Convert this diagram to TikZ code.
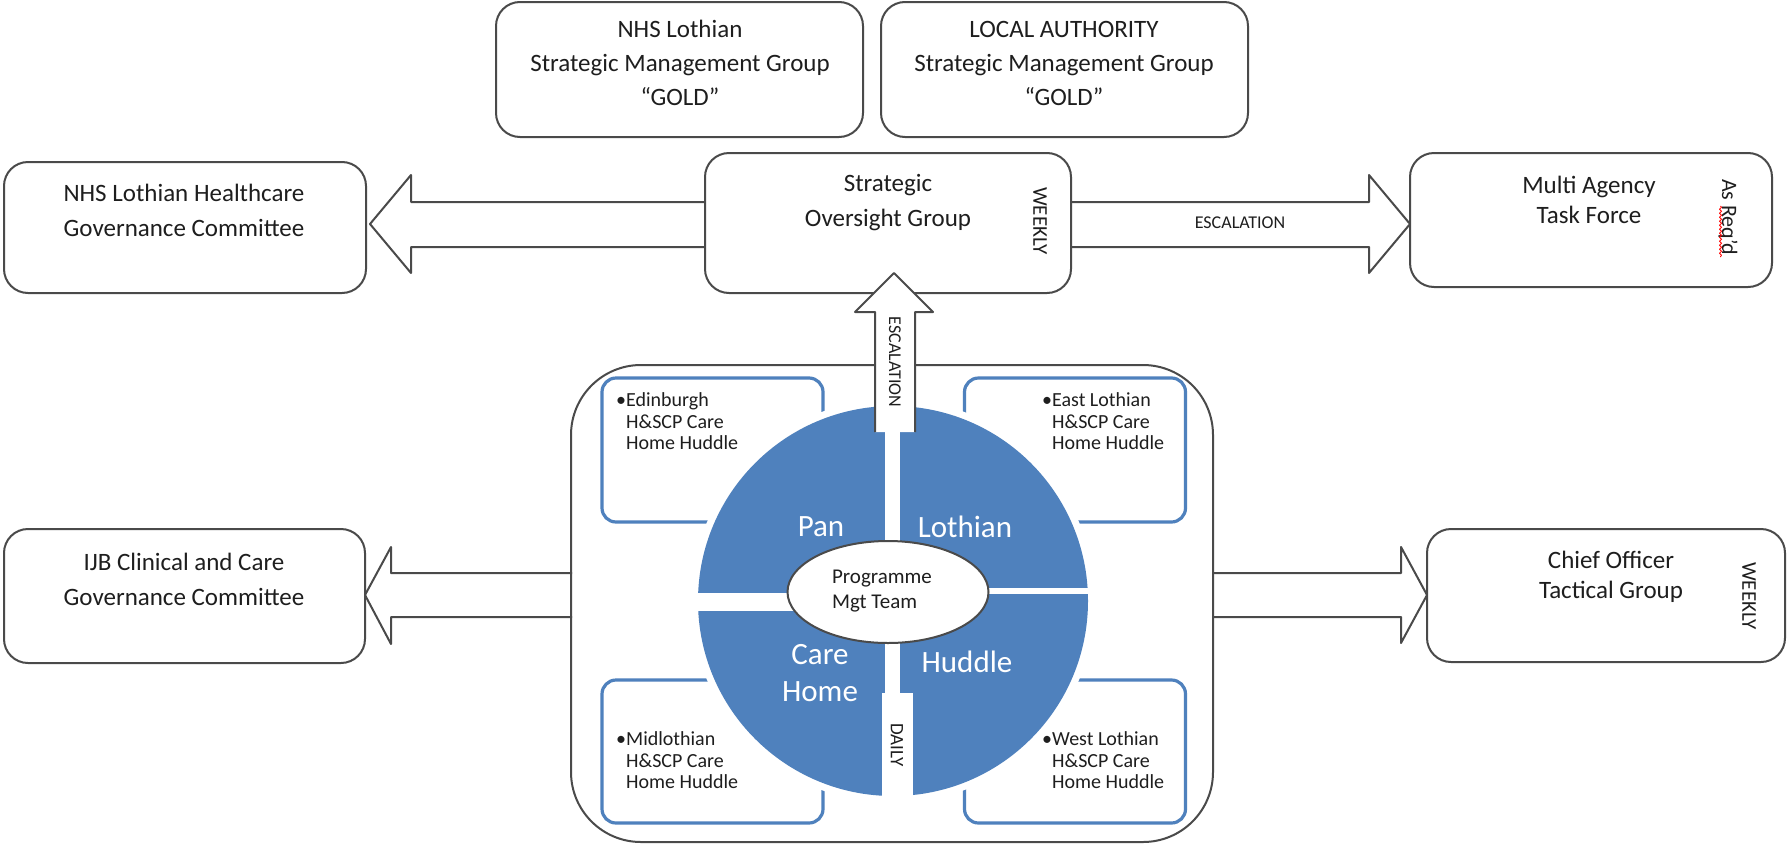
\documentclass[tikz,border=0pt]{standalone}
\usepackage{fontspec}
\setmainfont{Carlito}
\usetikzlibrary{shapes.geometric,decorations.pathmorphing}
\definecolor{ln}{HTML}{4A4A4A}
\definecolor{acc}{HTML}{4F81BD}
\definecolor{txt}{HTML}{1E1E1E}
\begin{document}
\begin{tikzpicture}[x=1pt,y=-1pt,line join=round]
\tikzset{
  gbox/.style={draw=ln, line width=2pt, rounded corners=24pt, fill=white, inner sep=0pt},
  bbox/.style={draw=acc, line width=3.2pt, rounded corners=14pt, inner sep=0pt},
  btxt/.style={text=txt, font=\fontsize{25}{35}\selectfont, align=center, inner sep=0pt},
  stxt/.style={text=txt, font=\fontsize{20}{21.5}\selectfont, align=left, inner sep=0pt, anchor=west},
  rtxt/.style={text=txt, rotate=-90, inner sep=0pt},
  qtxt/.style={text=white, font=\fontsize{31}{37}\selectfont, align=center, inner sep=0pt},
  barrow/.style={draw=ln, line width=2pt},
}
\useasboundingbox (0,0) rectangle (1787,846);
\fill[white] (0,0) rectangle (1787,846);

% top GOLD boxes
\node[gbox, minimum width=367pt, minimum height=135pt] (smg1) at (679.5,69.5) {};
\node[gbox, minimum width=367pt, minimum height=135pt] (smg2) at (1064.5,69.5) {};
\node[btxt, font=\fontsize{25}{34}\selectfont] (smg1t) at (680,63) {NHS Lothian\\Strategic Management Group\\“GOLD”};
\node[btxt, font=\fontsize{25}{34}\selectfont] (smg2t) at (1064,63) {LOCAL AUTHORITY\\Strategic Management Group\\“GOLD”};

% top block arrows
\fill[white] (705,202) -- (411,202) -- (411,175) -- (370,224) -- (411,273) -- (411,247) -- (705,247) -- cycle;
\draw[barrow] (705,202) -- (411,202) -- (411,175) -- (370,224) -- (411,273) -- (411,247) -- (705,247);
\fill[white] (1071,202) -- (1369,202) -- (1369,175) -- (1410,224) -- (1369,273) -- (1369,247) -- (1071,247) -- cycle;
\draw[barrow] (1071,202) -- (1369,202) -- (1369,175) -- (1410,224) -- (1369,273) -- (1369,247) -- (1071,247);

% second row boxes
\node[gbox, minimum width=366pt, minimum height=140pt] (sog) at (888,223) {};
\node[gbox, minimum width=362pt, minimum height=131pt] (nhs) at (185,227.5) {};
\node[gbox, minimum width=362pt, minimum height=134pt] (mat) at (1591,220) {};

\node[btxt] (sogt) at (888,202.5) {Strategic\\Oversight Group};
\node[rtxt, font=\fontsize{21}{25}\selectfont] (sogw) at (1040,221) {WEEKLY};
\node[btxt] (nhst) at (184,210.5) {NHS Lothian Healthcare\\Governance Committee};
\node[btxt, font=\fontsize{25}{30}\selectfont] (matt) at (1589,200) {Multi Agency\\Task Force};
\node[rtxt, font=\fontsize{22}{25}\selectfont] (matr) at (1728,217) {As Req’d};
\draw[red, line width=0.8pt, decorate, decoration={snake, amplitude=1.1pt, segment length=4pt}] (1720.5,206) -- (1720.5,257);
\node[text=txt, font=\fontsize{18}{20}\selectfont, inner sep=0pt] (esc1) at (1240,223) {ESCALATION};

% lower block arrows
\fill[white] (572,573) -- (391,573) -- (391,547) -- (365,595) -- (391,644) -- (391,617) -- (572,617) -- cycle;
\draw[barrow] (572,573) -- (391,573) -- (391,547) -- (365,595) -- (391,644) -- (391,617) -- (572,617);
\fill[white] (1213,573) -- (1401,573) -- (1401,547) -- (1427,595) -- (1401,643) -- (1401,617) -- (1213,617) -- cycle;
\draw[barrow] (1213,573) -- (1401,573) -- (1401,547) -- (1427,595) -- (1401,643) -- (1401,617) -- (1213,617);

% container
\node[draw=ln, line width=2pt, rounded corners=70pt, minimum width=642pt, minimum height=477pt, inner sep=0pt] (cont) at (892,603.5) {};

\node[gbox, minimum width=361pt, minimum height=134pt] (ijb) at (184.5,596) {};
\node[gbox, minimum width=358pt, minimum height=133pt] (cot) at (1606,595.5) {};
\node[btxt] (ijbt) at (184,579.5) {IJB Clinical and Care\\Governance Committee};
\node[btxt, font=\fontsize{25}{30}\selectfont] (cott) at (1611,577) {Chief Officer\\Tactical Group};
\node[rtxt, font=\fontsize{21}{25}\selectfont] (cotw) at (1749,596) {WEEKLY};

% blue huddle boxes
\node[bbox, minimum width=221pt, minimum height=144pt] (edb) at (712.5,450) {};
\node[bbox, minimum width=221pt, minimum height=144pt] (elb) at (1075,450) {};
\node[bbox, minimum width=221pt, minimum height=143pt] (mlb) at (712.5,751.5) {};
\node[bbox, minimum width=221pt, minimum height=143pt] (wlb) at (1075,751.5) {};
\node[stxt] (edt) at (616,421.5) {•Edinburgh\\\hphantom{•}H\&SCP Care\\\hphantom{•}Home Huddle};
\node[stxt] (elt) at (1042,421.5) {•East Lothian\\\hphantom{•}H\&SCP Care\\\hphantom{•}Home Huddle};
\node[stxt] (mlt) at (616,760.5) {•Midlothian\\\hphantom{•}H\&SCP Care\\\hphantom{•}Home Huddle};
\node[stxt] (wlt) at (1042,760.5) {•West Lothian\\\hphantom{•}H\&SCP Care\\\hphantom{•}Home Huddle};

% circle
\fill[white] (893,601) circle[radius=202];
\fill[acc] (893,601) circle[radius=195];
\fill[white] (885,398) rectangle (900,805);
\fill[white] (690,593) rectangle (893,611);
\fill[white] (893,588) rectangle (1100,594);
\fill[white] (882,693) rectangle (913,800);
\node[rtxt, font=\fontsize{19}{22}\selectfont] (daily) at (897,745) {DAILY};

\node[qtxt] (qpan) at (821,527) {Pan};
\node[qtxt] (qlot) at (965,527) {Lothian};
\node[qtxt] (qcare) at (820,673.5) {Care\\Home};
\node[qtxt] (qhud) at (967,662) {Huddle};

% centre ellipse
\node[ellipse, draw=ln, line width=2pt, fill=white, minimum width=201pt, minimum height=102pt, inner sep=0pt] (pmt) at (888,592) {};
\node[text=txt, font=\fontsize{21}{25}\selectfont, align=left, inner sep=0pt] (pmtt) at (882,591) {Programme\\Mgt Team};

% upward escalation arrow
\fill[white] (875,432) -- (875,312) -- (855,312) -- (894,273) -- (933,312) -- (915,312) -- (915,432) -- cycle;
\draw[barrow] (875,432) -- (875,312) -- (855,312) -- (894,273) -- (933,312) -- (915,312) -- (915,432);
\node[rtxt, font=\fontsize{18}{20}\selectfont] (esc2) at (895,362) {ESCALATION};
\end{tikzpicture}
\end{document}
